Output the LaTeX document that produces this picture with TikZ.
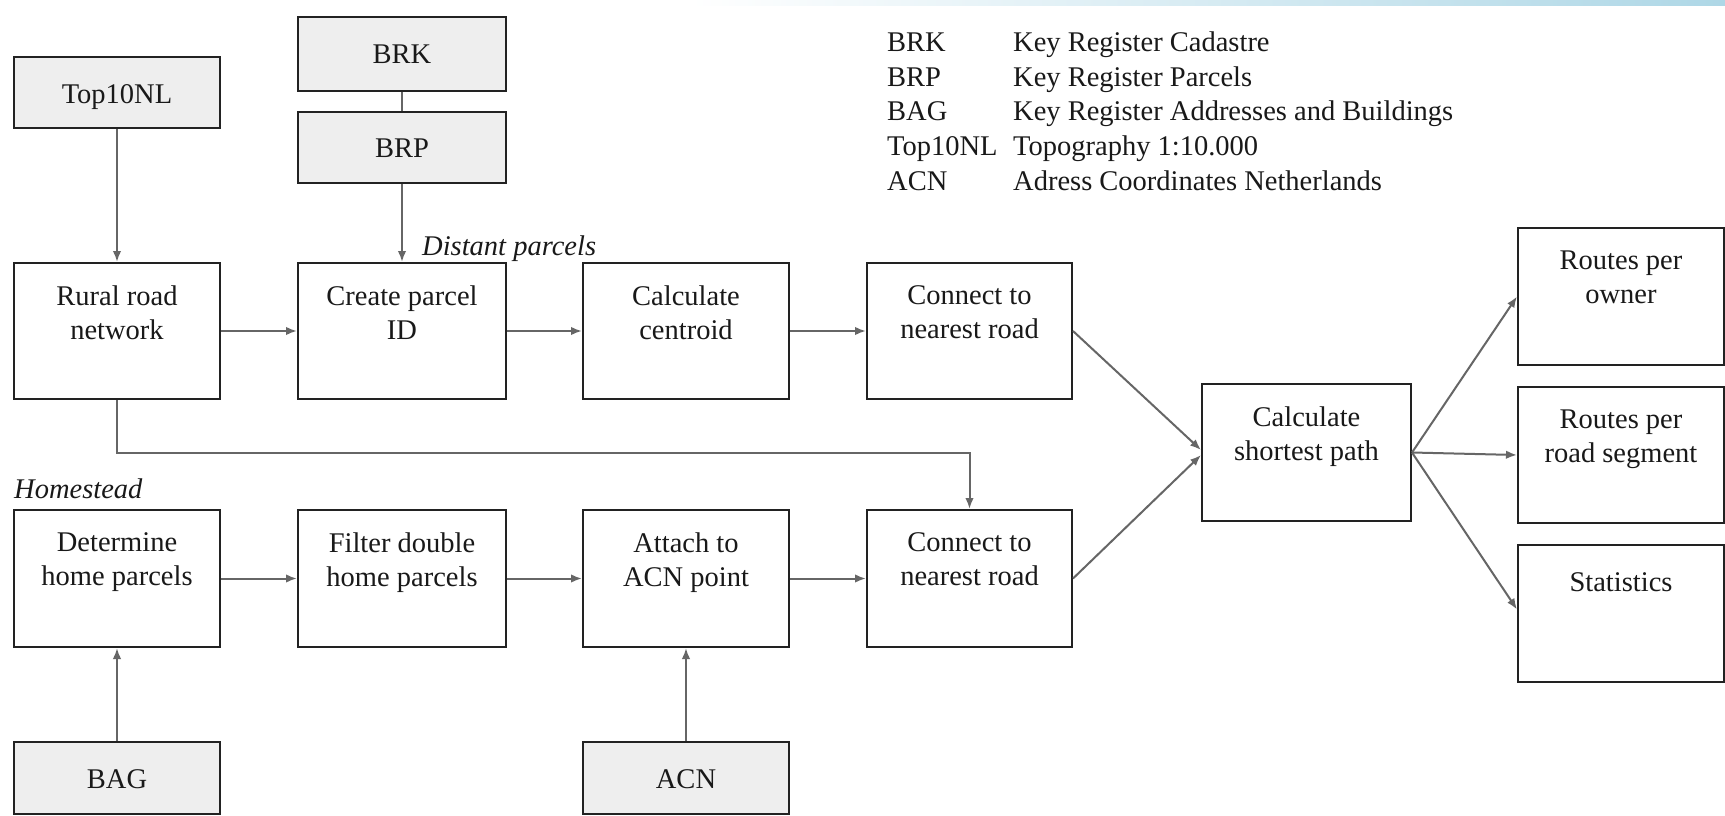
\documentclass[tikz,border=0pt]{standalone}
\usepackage{fontspec}
\setmainfont{Liberation Serif}
\usetikzlibrary{arrows.meta,calc}
\definecolor{boxline}{HTML}{222222}
\definecolor{srcfill}{HTML}{EEEEEE}
\definecolor{arrowgray}{HTML}{666666}
\definecolor{barblue}{HTML}{AED7E6}
\newcommand\mainfs{\fontsize{28.5}{34}\selectfont}
\tikzset{
  box/.style={draw=boxline, line width=2pt, minimum width=206pt, minimum height=136pt, inner sep=0pt, fill=white},
  srcbox/.style={box, fill=srcfill, minimum height=71pt},
  lbl/.style={anchor=north, align=center, inner sep=0pt, font=\mainfs, text=black!90, execute at begin node=\strut},
  arr/.style={draw=arrowgray, line width=2pt, -{Latex[length=11pt,width=8.5pt]}},
  conn/.style={draw=arrowgray, line width=2pt},
  leg/.style={anchor=base west, inner sep=0pt, font=\mainfs, text=black!90},
  note/.style={anchor=base west, inner sep=0pt, font=\mainfs\itshape, text=black!90},
}
\begin{document}
\begin{tikzpicture}[x=1pt,y=-1pt]
\useasboundingbox (0,0) rectangle (1725,816);
\fill[white] (0,0) rectangle (1725,816);
\shade[left color=white, right color=barblue] (690,0) rectangle (1725,5.5);

% source boxes
\node[srcbox] (top10) at (117,92.5) {};
\node[srcbox, minimum width=208pt, minimum height=74pt] (brk) at (402,54) {};
\node[srcbox, minimum width=208pt] (brp) at (402,147.5) {};
\node[srcbox, minimum height=72pt] (bag) at (117,778) {};
\node[srcbox, minimum height=72pt] (acn) at (686,778) {};

% process boxes
\node[box] (rural) at (117,331) {};
\node[box, minimum width=208pt] (create) at (402,331) {};
\node[box] (centroid) at (686,331) {};
\node[box, minimum width=205pt] (conn1) at (969.5,331) {};
\node[box, minimum height=137pt] (det) at (117,578.5) {};
\node[box, minimum width=208pt, minimum height=137pt] (filter) at (402,578.5) {};
\node[box, minimum height=137pt] (attach) at (686,578.5) {};
\node[box, minimum width=205pt, minimum height=137pt] (conn2) at (969.5,578.5) {};
\node[box, minimum width=209pt, minimum height=137pt] (spath) at (1306.5,452.5) {};
\node[box, minimum height=137pt] (owner) at (1621,296.5) {};
\node[box, minimum height=136pt] (seg) at (1621,455) {};
\node[box, minimum height=137pt] (stats) at (1621,613.5) {};

% box texts
\node[lbl] (top10-t) at ([yshift=-23.2pt]top10.north) {Top10NL};
\node[lbl] (brk-t) at ([yshift=-24pt]brk.north) {BRK};
\node[lbl] (brp-t) at ([yshift=-22pt]brp.north) {BRP};
\node[lbl] (bag-t) at ([yshift=-23.2pt]bag.north) {BAG};
\node[lbl] (acn-t) at ([yshift=-23.2pt]acn.north) {ACN};
\node[lbl] (rural-t) at ([yshift=-23.2pt]rural.north) {Rural road\\network};
\node[lbl] (create-t) at ([yshift=-23.2pt]create.north) {Create parcel\\ID};
\node[lbl] (centroid-t) at ([yshift=-23.2pt]centroid.north) {Calculate\\centroid};
\node[lbl] (conn1-t) at ([yshift=-23.2pt]conn1.north) {Connect to\\nearest road};
\node[lbl] (det-t) at ([yshift=-23.2pt]det.north) {Determine\\home parcels};
\node[lbl] (filter-t) at ([yshift=-23.2pt]filter.north) {Filter double\\home parcels};
\node[lbl] (attach-t) at ([yshift=-23.2pt]attach.north) {Attach to\\ACN point};
\node[lbl] (conn2-t) at ([yshift=-23.2pt]conn2.north) {Connect to\\nearest road};
\node[lbl] (spath-t) at ([yshift=-23.2pt]spath.north) {Calculate\\shortest path};
\node[lbl] (owner-t) at ([yshift=-23.2pt]owner.north) {Routes per\\owner};
\node[lbl] (seg-t) at ([yshift=-23.2pt]seg.north) {Routes per\\road segment};
\node[lbl] (stats-t) at ([yshift=-23.2pt]stats.north) {Statistics};

% notes
\node[note] (distant) at (422,255) {Distant parcels};
\node[note] (homestead) at (14,498) {Homestead};

% legend
\node[leg] (l1a) at (887,52) {BRK};
\node[leg] (l1b) at (1013,52) {Key Register Cadastre};
\node[leg] (l2a) at (887,86.5) {BRP};
\node[leg] (l2b) at (1013,86.5) {Key Register Parcels};
\node[leg] (l3a) at (887,121) {BAG};
\node[leg] (l3b) at (1013,121) {Key Register Addresses and Buildings};
\node[leg] (l4a) at (887,155.5) {Top10NL};
\node[leg] (l4b) at (1013,155.5) {Topography 1:10.000};
\node[leg] (l5a) at (887,190) {ACN};
\node[leg] (l5b) at (1013,190) {Adress Coordinates Netherlands};

% connectors
\draw[arr] (top10.south) -- (rural.north);
\draw[conn] (brk.south) -- (brp.north);
\draw[arr] (brp.south) -- (create.north);
\draw[arr] (rural.east) -- (create.west);
\draw[arr] (create.east) -- (centroid.west);
\draw[arr] (centroid.east) -- (conn1.west);
\coordinate (bend) at (969.5,453);
\draw[arr] (rural.south) |- (bend) -- (conn2.north);
\draw[arr] (det.east) -- (filter.west);
\draw[arr] (filter.east) -- (attach.west);
\draw[arr] (attach.east) -- (conn2.west);
\draw[arr] (bag.north) -- (det.south);
\draw[arr] (acn.north) -- (attach.south);
\draw[arr] (conn1.east) -- ([yshift=2.5pt]spath.west);
\draw[arr] (conn2.east) -- ([yshift=-2.5pt]spath.west);
\draw[arr] (spath.east) -- (owner.west);
\draw[arr] (spath.east) -- (seg.west);
\draw[arr] (spath.east) -- ([yshift=4pt]stats.west);
\end{tikzpicture}
\end{document}
